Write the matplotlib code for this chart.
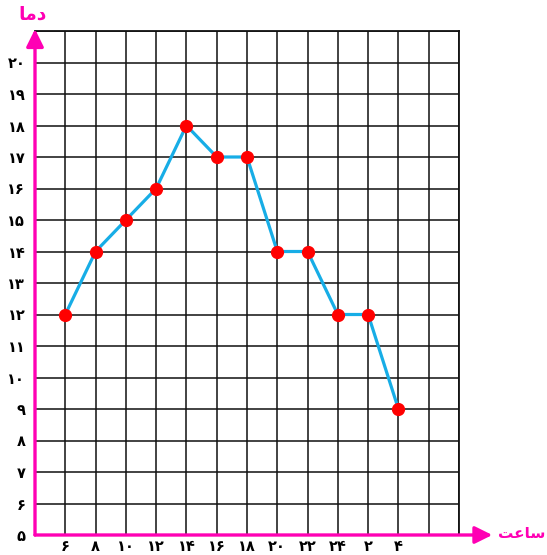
import matplotlib
matplotlib.use("Agg")
import matplotlib.pyplot as plt

plt.rcParams['font.family'] = ['DejaVu Sans']

# Hour labels (Persian digits) and recorded temperatures
hours = ['۶', '۸', '۱۰', '۱۲', '۱۴', '۱۶', '۱۸', '۲۰', '۲۲', '۲۴', '۲', '۴']
temps = [12, 14, 15, 16, 18, 17, 17, 14, 14, 12, 12, 9]
temp_levels = list(range(5, 21))

PERSIAN = str.maketrans('0123456789', '۰۱۲۳۴۵۶۷۸۹')

def fa(n):
    return str(n).translate(PERSIAN)

# Axis titles, written in shaped presentation forms and visual order
y_title = '\uFE8E\uFEE3\uFEA9'          # دما
x_title = '\uFE96\uFECB\uFE8E\uFEB3'    # ساعت

W, H = 547, 555
fig = plt.figure(figsize=(W / 100, H / 100), dpi=100)
ax = fig.add_axes([35 / W, (H - 535) / H, 424 / W, 504 / H])

n_cols = 14
x_pos = list(range(1, len(hours) + 1))
ax.set_xlim(0, n_cols)
ax.set_ylim(5, 21)

# Grid on every cell
ax.set_xticks(range(0, n_cols + 1))
ax.set_xticklabels([''] + hours + [''] * (n_cols - len(hours)))
ax.set_yticks(range(5, 22))
ax.set_yticklabels([fa(v) for v in temp_levels] + [''])
ax.grid(True, color='#111111', lw=1.3, alpha=0.85, zorder=0)
ax.tick_params(length=0, labelsize=10.5)
ax.tick_params(axis='x', pad=3)
ax.tick_params(axis='y', pad=7)
for lab in ax.get_xticklabels() + ax.get_yticklabels():
    lab.set_fontweight('bold')

for s in ['top', 'right']:
    ax.spines[s].set_color('#111111')
    ax.spines[s].set_linewidth(1.3)
for s in ['left', 'bottom']:
    ax.spines[s].set_visible(False)

# Temperature curve
ax.plot(x_pos, temps, color='#17ade6', lw=2.3, zorder=3,
        marker='o', markersize=8.5, markerfacecolor='#ff0000',
        markeredgecolor='#ff0000')

# Magenta axes with arrow heads
mag = '#ff00b4'
ax.annotate('', xy=(15.1, 5), xytext=(0, 5),
            arrowprops=dict(arrowstyle='-|>,head_length=10.5,head_width=5.2',
                            mutation_scale=1, color=mag, lw=2.4,
                            shrinkA=0, shrinkB=0),
            annotation_clip=False, zorder=5)
ax.annotate('', xy=(0, 21.06), xytext=(0, 5),
            arrowprops=dict(arrowstyle='-|>,head_length=10.5,head_width=5.2',
                            mutation_scale=1, color=mag, lw=2.4,
                            shrinkA=0, shrinkB=0),
            annotation_clip=False, zorder=5)

fig.text(33 / W, 1 - 14 / H, y_title, color=mag, fontsize=13.5, fontweight='bold',
         ha='center', va='center')
fig.text(522 / W, 1 - 533 / H, x_title, color=mag, fontsize=11, fontweight='bold',
         ha='center', va='center')

fig.savefig('out.png', dpi=100)
